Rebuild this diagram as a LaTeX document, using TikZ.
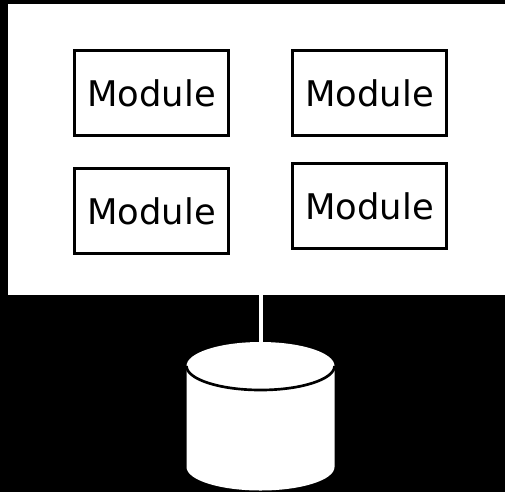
\documentclass[tikz,border=0pt]{standalone}
\usepackage{fontspec}
\setmainfont{DejaVu Sans}
\tikzset{
	modulebox/.style = {draw, line width = 2.3pt, fill = white, minimum width = 115.5pt, minimum height = 63.75pt, inner sep = 0pt, font = \fontsize{26.5}{30}\selectfont}
}

\begin{document}
\begin{tikzpicture}[x = 0.75pt, y = -0.75pt]
			%background and application area
			\fill[black] (0,0) rectangle (505,492);
			\useasboundingbox (0,0) rectangle (505,492);
			\node[fill = white, inner sep = 0pt, minimum width = 372.75pt, minimum height = 218.25pt] (app) at (256.5,149.5) {};
			%modules
			\node[modulebox] (modA) at (151.5,93) {Module};
			\node[modulebox] (modB) at (369.5,93) {Module};
			\node[modulebox] (modC) at (151.5,211) {Module};
			\node[modulebox] (modD) at (369.5,206) {Module};
			%database
			\coordinate (storetop) at (260.5,342);
			\fill[white] (186.5,366) arc (180:360:74 and 24) -- (334.5,467) arc (0:180:74 and 23.5) -- cycle;
			\draw[black, line width = 2pt] (186.5,366) arc (180:0:74 and 24);
			\draw[white, line width = 3pt] (app.south -| storetop) -- (storetop);
		\end{tikzpicture}
\end{document}
